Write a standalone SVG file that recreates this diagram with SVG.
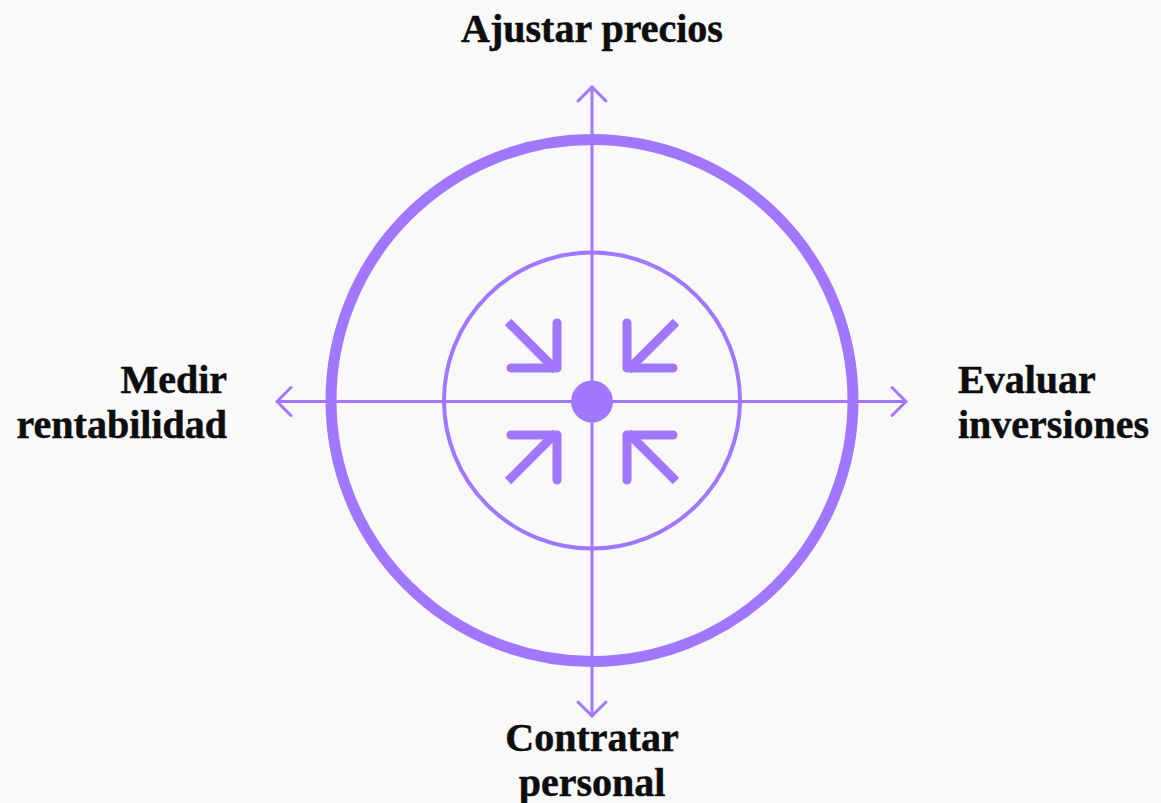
<svg xmlns="http://www.w3.org/2000/svg" width="1161" height="803" viewBox="0 0 1161 803">
<style>
.ln{stroke:#a277ff;stroke-width:3;fill:none;stroke-linecap:round;stroke-linejoin:round}
.ic{stroke:#a277ff;stroke-width:9;fill:none;stroke-linejoin:round}
.lbl{font-family:"Liberation Serif","Times New Roman",serif;font-weight:bold;font-size:40px;fill:#0d0d0d;stroke:#0d0d0d;stroke-width:0.5}
</style>
<rect width="1161" height="803" fill="#f9f9fa"/>
<g id="connectors">
<path class="ln" d="M592 87V716M277 401.5H906"/>
<path class="ln" d="M578 101L592 87L606 101"/>
<path class="ln" d="M578 702L592 716L606 702"/>
<path class="ln" d="M291 387.5L277 401.5L291 415.5"/>
<path class="ln" d="M892 387.5L906 401.5L892 415.5"/>
</g>
<g id="target">
<circle cx="592" cy="400.5" r="261" fill="none" stroke="#a277ff" stroke-width="11"/>
<circle cx="592" cy="400.5" r="148" fill="none" stroke="#a277ff" stroke-width="4"/>
<circle cx="592" cy="401.5" r="21" fill="#a277ff"/>
</g>
<g id="icons">
<path class="ic" d="M508 322L556 370"/>
<path class="ic" d="M557 323V368H511" stroke-linecap="round"/>
<path class="ic" d="M676 322L628 370"/>
<path class="ic" d="M627 323V368H673" stroke-linecap="round"/>
<path class="ic" d="M508 481L556 433"/>
<path class="ic" d="M557 480V435H511" stroke-linecap="round"/>
<path class="ic" d="M676 481L628 433"/>
<path class="ic" d="M627 480V435H673" stroke-linecap="round"/>
</g>
<g id="node-top"><text class="lbl" x="592" y="42" text-anchor="middle">Ajustar precios</text></g>
<g id="node-left"><text class="lbl" x="227" y="393" text-anchor="end">Medir</text><text class="lbl" x="227" y="438" text-anchor="end">rentabilidad</text></g>
<g id="node-right"><text class="lbl" x="958" y="393">Evaluar</text><text class="lbl" x="958" y="438">inversiones</text></g>
<g id="node-bottom"><text class="lbl" x="592" y="751" text-anchor="middle">Contratar</text><text class="lbl" x="592" y="796" text-anchor="middle">personal</text></g>
</svg>
